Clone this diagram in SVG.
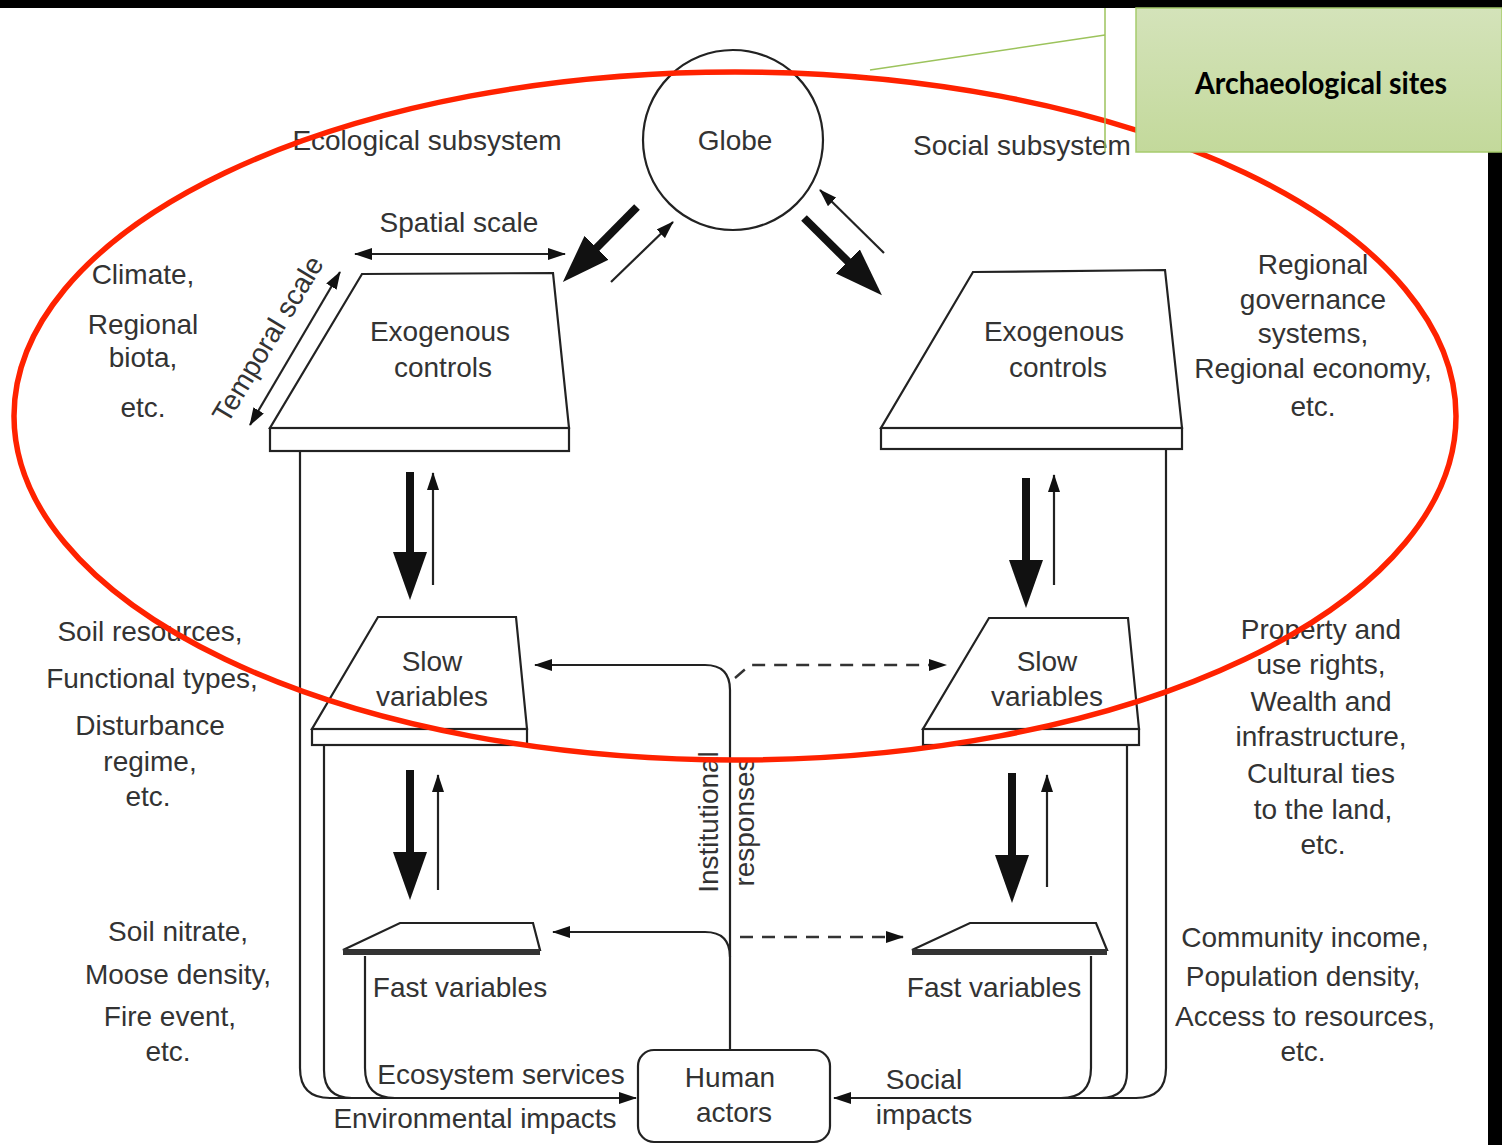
<svg xmlns="http://www.w3.org/2000/svg" width="1502" height="1145" viewBox="0 0 1502 1145">
<style>
.t{font-family:"Liberation Sans",Arial,sans-serif;font-size:28px;fill:#333;text-anchor:middle}
.sh{fill:#fff;stroke:#222;stroke-width:2.2}
.ln{fill:none;stroke:#222;stroke-width:2.2}
.thk{fill:none;stroke:#111;stroke-width:8}
.dash{fill:none;stroke:#333;stroke-width:2.4;stroke-dasharray:13 9}
</style>
<defs>
<marker id="ah" markerUnits="userSpaceOnUse" viewBox="0 0 18 12" markerWidth="18" markerHeight="12" refX="17" refY="6" orient="auto"><path d="M0,0 L18,6 L0,12 z" fill="#111"/></marker>
<marker id="ah2" markerUnits="userSpaceOnUse" viewBox="0 0 18 12" markerWidth="18" markerHeight="12" refX="17" refY="6" orient="auto-start-reverse"><path d="M0,0 L18,6 L0,12 z" fill="#111"/></marker>
<marker id="big" markerUnits="userSpaceOnUse" viewBox="0 0 48 34" markerWidth="48" markerHeight="34" refX="8" refY="17" orient="auto"><path d="M0,0 L48,17 L0,34 z" fill="#111"/></marker>
<linearGradient id="gg" x1="0" y1="0" x2="0" y2="1"><stop offset="0" stop-color="#d4e3ba"/><stop offset="1" stop-color="#c3d99b"/></linearGradient>
</defs>
<rect x="0" y="0" width="1502" height="1145" fill="#fff"/>
<rect x="0" y="0" width="1502" height="8" fill="#000"/>
<rect x="1488" y="150" width="14" height="995" fill="#000"/>

<g id="connectors">
<line class="thk" x1="637" y1="207" x2="591" y2="253.5" marker-end="url(#big)"/>
<line class="ln" x1="611" y1="282" x2="673" y2="222" marker-end="url(#ah)"/>
<line class="thk" x1="804" y1="218" x2="853.5" y2="267" marker-end="url(#big)"/>
<line class="ln" x1="884" y1="253" x2="820" y2="190" marker-end="url(#ah)"/>
<line class="thk" x1="410" y1="472" x2="410" y2="560" marker-end="url(#big)"/>
<line class="ln" x1="433" y1="585" x2="433" y2="473" marker-end="url(#ah)"/>
<line class="thk" x1="1026" y1="478" x2="1026" y2="568" marker-end="url(#big)"/>
<line class="ln" x1="1054" y1="585" x2="1054" y2="475" marker-end="url(#ah)"/>
<line class="thk" x1="410" y1="770" x2="410" y2="860" marker-end="url(#big)"/>
<line class="ln" x1="438" y1="890" x2="438" y2="775" marker-end="url(#ah)"/>
<line class="thk" x1="1012" y1="773" x2="1012" y2="863" marker-end="url(#big)"/>
<line class="ln" x1="1047" y1="887" x2="1047" y2="775" marker-end="url(#ah)"/>
<line class="ln" x1="355" y1="254" x2="565" y2="254" marker-start="url(#ah2)" marker-end="url(#ah2)"/>
<line class="ln" x1="250" y1="425" x2="340" y2="272" marker-start="url(#ah2)" marker-end="url(#ah2)"/>
<path class="ln" d="M730,1050 V690 Q730,665 705,665 H535" marker-end="url(#ah)"/>
<path class="ln" d="M730,957 Q730,932 705,932 H553" marker-end="url(#ah)"/>
<path class="dash" d="M735,678 L750,665 H946" marker-end="url(#ah)"/>
<path class="dash" d="M740,937 H903" marker-end="url(#ah)"/>
<path class="ln" d="M300,451 V1068 Q300,1098 330,1098 H636" marker-end="url(#ah)"/>
<path class="ln" d="M324,745 V1070 Q324,1098 352,1098"/>
<path class="ln" d="M365,956 V1068 Q365,1098 395,1098"/>
<path class="ln" d="M1166,449 V1068 Q1166,1098 1136,1098 H834" marker-end="url(#ah)"/>
<path class="ln" d="M1127,745 V1072 Q1127,1098 1101,1098"/>
<path class="ln" d="M1091,956 V1068 Q1091,1098 1061,1098"/>
</g>

<g id="globe">
<circle cx="733" cy="140" r="90" class="sh"/>
<text class="t" x="735" y="150">Globe</text>
</g>

<g id="eco-exogenous">
<polygon class="sh" points="362,274 553,273 569,428 270,428"/>
<rect class="sh" x="270" y="428" width="299" height="23"/>
<text class="t" x="440" y="341">Exogenous</text>
<text class="t" x="443" y="377">controls</text>
</g>
<g id="soc-exogenous">
<polygon class="sh" points="973,272 1165,270 1182,428 881,428"/>
<rect class="sh" x="881" y="428" width="301" height="21"/>
<text class="t" x="1054" y="341">Exogenous</text>
<text class="t" x="1058" y="377">controls</text>
</g>
<g id="eco-slow">
<polygon class="sh" points="378,617 516,617 527,729 312,729"/>
<rect class="sh" x="312" y="729" width="215" height="16"/>
<text class="t" x="432" y="671">Slow</text>
<text class="t" x="432" y="706">variables</text>
</g>
<g id="soc-slow">
<polygon class="sh" points="989,618 1128,618 1139,729 923,729"/>
<rect class="sh" x="923" y="729" width="216" height="16"/>
<text class="t" x="1047" y="671">Slow</text>
<text class="t" x="1047" y="706">variables</text>
</g>
<g id="eco-fast">
<polygon class="sh" points="400,923 533,923 540,950 343,950"/>
<rect x="343" y="949" width="197" height="6" fill="#333"/>
<text class="t" x="460" y="997">Fast variables</text>
</g>
<g id="soc-fast">
<polygon class="sh" points="970,923 1096,923 1107,950 912,950"/>
<rect x="912" y="949" width="195" height="6" fill="#333"/>
<text class="t" x="994" y="997">Fast variables</text>
</g>
<g id="human-actors">
<rect class="sh" x="638" y="1050" width="192" height="92" rx="16"/>
<text class="t" x="730" y="1087">Human</text>
<text class="t" x="734" y="1122">actors</text>
</g>

<g id="labels">
<text class="t" x="427" y="150">Ecological subsystem</text>
<text class="t" x="1022" y="155">Social subsystem</text>
<text class="t" x="459" y="232">Spatial scale</text>
<text class="t" x="0" y="0" transform="translate(276,344) rotate(-59)">Temporal scale</text>
<text class="t" x="143" y="284">Climate,</text>
<text class="t" x="143" y="334">Regional</text>
<text class="t" x="143" y="367">biota,</text>
<text class="t" x="143" y="417">etc.</text>
<text class="t" x="1313" y="274">Regional</text>
<text class="t" x="1313" y="309">governance</text>
<text class="t" x="1313" y="343">systems,</text>
<text class="t" x="1313" y="378">Regional economy,</text>
<text class="t" x="1313" y="416">etc.</text>
<text class="t" x="150" y="641">Soil resources,</text>
<text class="t" x="152" y="688">Functional types,</text>
<text class="t" x="150" y="735">Disturbance</text>
<text class="t" x="150" y="771">regime,</text>
<text class="t" x="148" y="806">etc.</text>
<text class="t" x="1321" y="639">Property and</text>
<text class="t" x="1321" y="674">use rights,</text>
<text class="t" x="1321" y="711">Wealth and</text>
<text class="t" x="1321" y="746">infrastructure,</text>
<text class="t" x="1321" y="783">Cultural ties</text>
<text class="t" x="1323" y="819">to the land,</text>
<text class="t" x="1323" y="854">etc.</text>
<text class="t" x="0" y="0" transform="translate(718,822) rotate(-90)">Institutional</text>
<text class="t" x="0" y="0" transform="translate(754,822) rotate(-90)">responses</text>
<text class="t" x="178" y="941">Soil nitrate,</text>
<text class="t" x="178" y="984">Moose density,</text>
<text class="t" x="170" y="1026">Fire event,</text>
<text class="t" x="168" y="1061">etc.</text>
<text class="t" x="1305" y="947">Community income,</text>
<text class="t" x="1303" y="986">Population density,</text>
<text class="t" x="1305" y="1026">Access to resources,</text>
<text class="t" x="1303" y="1061">etc.</text>
<text class="t" x="501" y="1084">Ecosystem services</text>
<text class="t" x="475" y="1128">Environmental impacts</text>
<text class="t" x="924" y="1089">Social</text>
<text class="t" x="924" y="1124">impacts</text>
</g>

<g id="highlight">
<ellipse cx="735" cy="416" rx="721" ry="344" fill="none" stroke="#ff2200" stroke-width="5.5"/>
</g>

<g id="archaeological-sites">
<line x1="870" y1="70" x2="1105" y2="35" stroke="#9cc35c" stroke-width="1.5"/>
<line x1="1105" y1="8" x2="1105" y2="152" stroke="#9cc35c" stroke-width="1.5"/>
<rect x="1136" y="8" width="366" height="144" fill="url(#gg)" stroke="#a7cb6d" stroke-width="1.5"/>
<text x="1321" y="94" text-anchor="middle" font-family="Lato,'Open Sans',sans-serif" font-weight="bold" font-size="31" fill="#000" textLength="252" lengthAdjust="spacingAndGlyphs">Archaeological sites</text>
</g>
</svg>
